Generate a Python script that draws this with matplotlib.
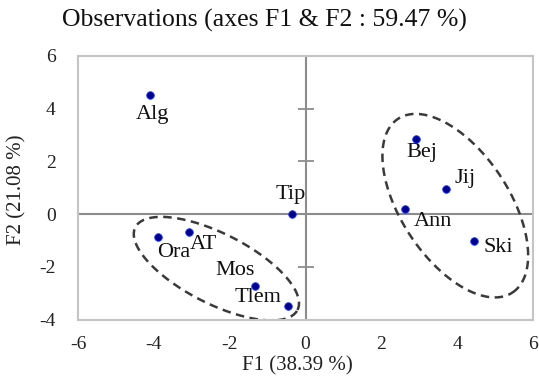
import numpy as np
import matplotlib
matplotlib.use("Agg")
import matplotlib.pyplot as plt

plt.rcParams['font.family'] = ['Liberation Serif', 'DejaVu Serif']
plt.rcParams['axes.unicode_minus'] = False

# observations (F1, F2)
names = ["Alg", "Tip", "Ora", "AT", "Mos", "Tlem", "Bej", "Jij", "Ann", "Ski"]
f1 = [-4.11, -0.36, -3.90, -3.08, -1.34, -0.46, 2.92, 3.70, 2.62, 4.45]
f2 = [4.52, 0.00, -0.86, -0.69, -2.73, -3.49, 2.85, 0.94, 0.20, -1.02]
# label offsets in pixels (dx, dy), dy up
label_dx = [3, -1, 16, 15, -20, -30, 6, 19, 28, 24]
label_dy = [-20, 20, -16, -12, 16, 9, -13, 11, -13, -7]

xticks = [-6, -4, -2, 0, 2, 4, 6]
yticks = [-4, -2, 0, 2, 4, 6]

# groups: centre (data), semi axes (px), tilt down-right (deg)
groups = [(-2.35, -2.07, 91, 35, 27), (3.95, 0.32, 104, 54, 56.6)]

W, H = 539, 381
fig = plt.figure(figsize=(W / 100, H / 100), dpi=100)
l, r, t, b = 78, 533, 56, 319.5
ax = fig.add_axes([l / W, 1 - b / H, (r - l) / W, (b - t) / H])
ax.set_xlim(-6, 6)
ax.set_ylim(-4, 6)
for s in ax.spines.values():
    s.set_color("#c4c4c4")
    s.set_linewidth(1.5)

ax.axhline(0, color="#8c8c8c", lw=1.5, zorder=1)
ax.axvline(0, color="#8c8c8c", lw=1.5, zorder=1)
ax.plot([0] * len(yticks), yticks, ls="none", marker="_", ms=11, mew=1.3,
        color="#8c8c8c", clip_on=False, zorder=1)

ax.set_xticks(xticks)
ax.set_yticks(yticks)
ax.tick_params(length=0, labelsize=14, labelcolor="#222222")
ax.tick_params(axis="x", pad=12)
ax.tick_params(axis="y", pad=16)

ax.scatter(f1, f2, s=30, color="#00008c", edgecolors="#1a3cff", linewidths=0.6, zorder=3)
for n, x, y, dx, dy in zip(names, f1, f2, label_dx, label_dy):
    ax.annotate(n, (x, y), xytext=(dx, dy), textcoords="offset pixels",
                ha="center", va="center", fontsize=16, color="#111111")

sx = (r - l) / 12.0
sy = (b - t) / 10.0
tt = np.linspace(0, 2 * np.pi, 300)
for cx, cy, a, bb, ang in groups:
    th = np.radians(-ang)
    u = a * np.cos(tt) * np.cos(th) - bb * np.sin(tt) * np.sin(th)
    v = a * np.cos(tt) * np.sin(th) + bb * np.sin(tt) * np.cos(th)
    ax.plot(cx + u / sx, cy + v / sy, color="#3a3a3a", lw=1.8,
            dashes=(3.4, 2.2), zorder=2)

fig.text(264 / W, 1 - 20 / H, "Observations (axes F1 & F2 : 59.47 %)",
         ha="center", va="center", fontsize=18.5, color="#111111")
fig.text(297 / W, 1 - 366 / H, "F1 (38.39 %)", ha="center", va="center",
         fontsize=15, color="#222222")
fig.text(17 / W, 1 - 190 / H, "F2 (21.08 %)", ha="center", va="center",
         rotation=90, fontsize=15, color="#222222")

fig.savefig("out.png", dpi=100)
